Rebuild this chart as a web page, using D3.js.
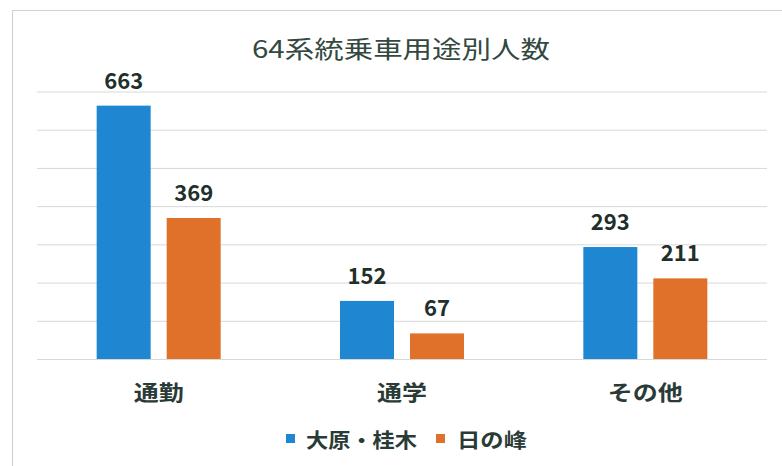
<!DOCTYPE html>
<html>
<head>
<meta charset="utf-8">
<script src="https://cdn.jsdelivr.net/npm/d3@7"></script>
<style>
  html, body { margin: 0; padding: 0; background: #ffffff; }
  svg { display: block; }
  text { font-family: "Noto Sans CJK JP", "Noto Sans", sans-serif; }
</style>
</head>
<body>
<svg id="chart" width="782" height="466"></svg>
<script>
const title = "64系統乗車用途別人数";
const categories = ["通勤", "通学", "その他"];
const seriesNames = ["大原・桂木", "日の峰"];
const seriesOhara = [663, 152, 293];
const seriesHinomine = [369, 67, 211];
const yTicks = [0, 100, 200, 300, 400, 500, 600, 700];

const seriesValues = [seriesOhara, seriesHinomine];
const colors = ["#1f87d2", "#e0712b"];

const svg = d3.select("#chart");
const W = 782, H = 466;

// frame
svg.append("line").attr("x1", 12).attr("x2", W).attr("y1", 10.5).attr("y2", 10.5)
  .attr("stroke", "#d2d2d2").attr("stroke-width", 1.2);
svg.append("line").attr("x1", 12.5).attr("x2", 12.5).attr("y1", 10).attr("y2", H)
  .attr("stroke", "#d2d2d2").attr("stroke-width", 1.2);

const x0 = d3.scaleBand().domain(categories).range([37, 767]).paddingInner(0).paddingOuter(0);
const bw = x0.bandwidth();
const x1 = d3.scaleBand().domain(seriesNames).range([bw / 2 - 62, bw / 2 + 62]).paddingInner(16 / 70);
const y = d3.scaleLinear().domain([0, 700]).range([359, 91.5]);

// gridlines
const grid = svg.append("g")
  .attr("transform", "translate(37,0)")
  .call(d3.axisLeft(y).tickValues(yTicks).tickSize(-(767 - 37)).tickFormat(""));
grid.select(".domain").remove();
grid.selectAll(".tick line").attr("stroke", "#d8d8d8").attr("stroke-width", 1);

// title
svg.append("text")
  .attr("x", 252).attr("y", 47)
  .attr("dominant-baseline", "central")
  .attr("font-size", 24)
  .attr("fill", "#33493f")
  .attr("textLength", 298).attr("lengthAdjust", "spacingAndGlyphs")
  .text(title);

// bars
const groups = svg.append("g").selectAll("g")
  .data(categories)
  .join("g")
  .attr("transform", d => `translate(${x0(d)},0)`);

const cellData = (c, ci) => seriesNames.map((s, si) => ({ s, si, v: seriesValues[si][ci] }));

groups.selectAll("rect")
  .data(cellData)
  .join("rect")
  .attr("x", d => x1(d.s))
  .attr("width", x1.bandwidth())
  .attr("y", d => y(d.v))
  .attr("height", d => y(0) - y(d.v))
  .attr("fill", d => colors[d.si]);

groups.selectAll("text.val")
  .data(cellData)
  .join("text")
  .attr("class", "val")
  .attr("x", d => x1(d.s) + x1.bandwidth() / 2 - String(d.v).length * 6.5)
  .attr("y", d => y(d.v) - 17)
  .attr("font-size", 22)
  .attr("font-weight", "bold")
  .attr("fill", "#1f2f2b")
  .attr("textLength", d => String(d.v).length * 13)
  .attr("lengthAdjust", "spacingAndGlyphs")
  .text(d => d.v);

// category labels
svg.append("g").selectAll("text")
  .data(categories)
  .join("text")
  .attr("x", d => x0(d) + bw / 2 - d.length * 12.5)
  .attr("y", 391)
  .attr("dominant-baseline", "central")
  .attr("font-size", 21)
  .attr("font-weight", "bold")
  .attr("fill", "#2a3b37")
  .attr("textLength", d => d.length * 25)
  .attr("lengthAdjust", "spacingAndGlyphs")
  .text(d => d);

// legend
const legendItems = [
  { name: seriesNames[0], color: colors[0], sx: 286, tx: 306, tw: 111 },
  { name: seriesNames[1], color: colors[1], sx: 436, tx: 457, tw: 70 }
];
const leg = svg.append("g");
legendItems.forEach(it => {
  leg.append("rect").attr("x", it.sx).attr("y", 434).attr("width", 9).attr("height", 9).attr("fill", it.color);
  leg.append("text")
    .attr("x", it.tx).attr("y", 439)
    .attr("dominant-baseline", "central")
    .attr("font-size", 20)
    .attr("font-weight", "bold")
    .attr("fill", "#2a3b37")
    .attr("textLength", it.tw).attr("lengthAdjust", "spacingAndGlyphs")
    .text(it.name);
});
</script>
</body>
</html>
